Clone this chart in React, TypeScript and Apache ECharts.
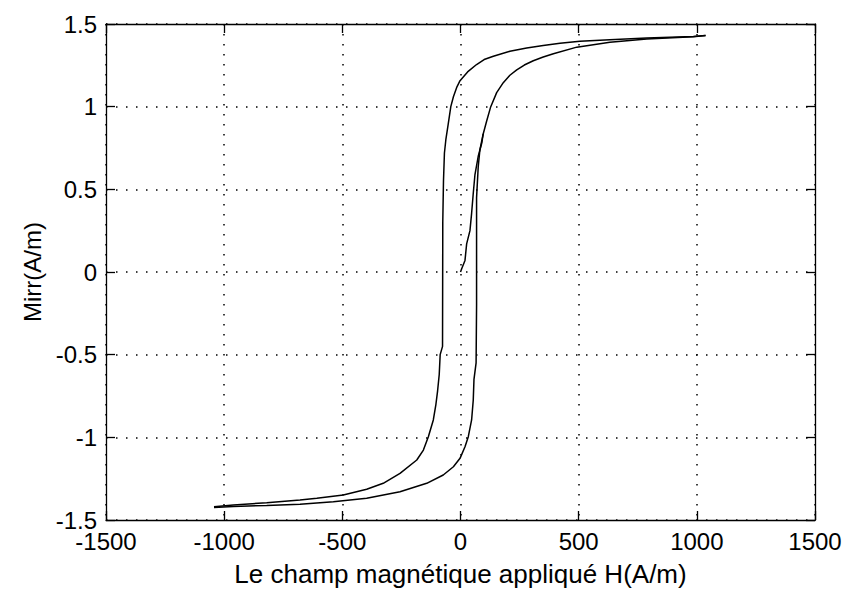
import React, { useEffect, useRef } from "react";
import * as echarts from "echarts";

// Initial magnetization curve (H, Mirr)
const initialH = [0, 5, 19, 26, 40, 47, 54, 61, 75, 90, 96];
const initialM = [0, 0.02, 0.07, 0.17, 0.25, 0.355, 0.476, 0.587, 0.7, 0.78, 0.835];

// Descending branch (from +Hmax to -Hmax)
const descH = [1037, 985, 788, 632, 505, 421, 350, 280, 209, 139, 100, 68, 30, -2, -15, -30, -41, -52, -62, -68, -72, -75, -76, -86, -90, -97, -104, -115, -136, -157, -185, -256, -327, -397, -496, -608, -679, -820, -961, -1043];
const descM = [1.43, 1.425, 1.415, 1.405, 1.395, 1.383, 1.37, 1.355, 1.335, 1.305, 1.285, 1.255, 1.21, 1.157, 1.12, 1.06, 1.0, 0.895, 0.8, 0.72, 0.55, 0.3, -0.45, -0.5, -0.62, -0.72, -0.8, -0.895, -0.996, -1.077, -1.137, -1.218, -1.278, -1.314, -1.349, -1.369, -1.379, -1.395, -1.41, -1.42];

// Ascending branch (from -Hmax to +Hmax)
const ascH = [-1043, -961, -820, -679, -538, -397, -256, -143, -73, -30, -2, 19, 33, 47, 54, 57, 66, 68, 68, 75, 82, 96, 111, 128, 153, 181, 209, 238, 270, 308, 350, 393, 492, 632, 788, 985, 1037];
const ascM = [-1.425, -1.418, -1.412, -1.405, -1.389, -1.369, -1.329, -1.278, -1.228, -1.178, -1.127, -1.057, -0.996, -0.895, -0.774, -0.65, -0.55, -0.2, 0.45, 0.637, 0.738, 0.835, 0.915, 1.0, 1.085, 1.145, 1.19, 1.222, 1.252, 1.278, 1.3, 1.32, 1.36, 1.389, 1.409, 1.423, 1.43];

const xTicks = { min: -1500, max: 1500, interval: 500 };
const yTicks = { min: -1.5, max: 1.5, interval: 0.5 };

const xName = "Le champ magnétique appliqué H(A/m)";
const yName = "Mirr(A/m)";

const pairs = (xs: number[], ys: number[]) => xs.map((x, i) => [x, ys[i]]);

export default function App() {
  const ref = useRef<HTMLDivElement>(null);
  useEffect(() => {
    document.body.style.margin = "0";
    const chart = echarts.init(ref.current!, null, { renderer: "svg" });
    const font = "Liberation Sans, Arial, sans-serif";
    const fs = 24;
    const axisLine = { show: true, onZero: false, lineStyle: { color: "#000", width: 1.3 } };
    const tick = { show: true, inside: true, length: 9, lineStyle: { color: "#000", width: 1.3 } };
    const grid = { show: true, lineStyle: { color: "#000", width: 1.5, type: [1.5, 8.5] as any } };
    const fmt = (v: number) => String(v);
    const lineSeries = (data: number[][]) => ({
      type: "line",
      data,
      showSymbol: false,
      symbol: "none",
      lineStyle: { color: "#000", width: 1.5 },
      xAxisIndex: 0,
      yAxisIndex: 0,
      z: 5,
    });
    chart.setOption({
      animation: false,
      backgroundColor: "#fff",
      grid: { left: 106, right: 30, top: 24, bottom: 71, containLabel: false },
      xAxis: [
        {
          type: "value",
          position: "bottom",
          ...xTicks,
          name: xName,
          nameLocation: "middle",
          nameGap: 41,
          nameTextStyle: { color: "#000", fontSize: 26, fontFamily: font },
          axisLine,
          axisTick: tick,
          axisLabel: { color: "#000", fontSize: fs, lineHeight: 18, fontFamily: font, margin: 12, formatter: fmt },
          splitLine: grid,
        },
        {
          type: "value",
          position: "top",
          ...xTicks,
          axisLine,
          axisTick: tick,
          axisLabel: { show: false },
          splitLine: { show: false },
        },
      ],
      yAxis: [
        {
          type: "value",
          position: "left",
          ...yTicks,
          name: yName,
          nameLocation: "middle",
          nameGap: 62,
          nameTextStyle: { color: "#000", fontSize: fs, fontFamily: font },
          axisLine,
          axisTick: tick,
          axisLabel: { color: "#000", fontSize: fs, lineHeight: 18, fontFamily: font, margin: 9, formatter: fmt },
          splitLine: grid,
        },
        {
          type: "value",
          position: "right",
          ...yTicks,
          axisLine,
          axisTick: tick,
          axisLabel: { show: false },
          splitLine: { show: false },
        },
      ],
      series: [
        lineSeries(pairs(initialH, initialM)),
        lineSeries(pairs(descH, descM)),
        lineSeries(pairs(ascH, ascM)),
      ],
    });
    return () => chart.dispose();
  }, []);
  return <div ref={ref} style={{ position: "fixed", left: 0, top: 0, width: 845, height: 592 }} />;
}
